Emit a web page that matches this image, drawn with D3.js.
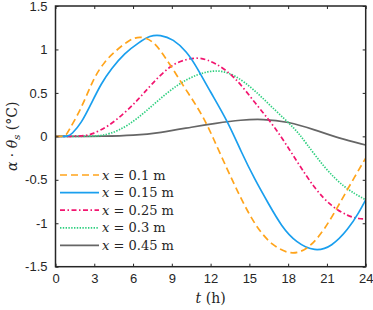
<!DOCTYPE html>
<html><head><meta charset="utf-8">
<script src="https://cdn.jsdelivr.net/npm/d3@7"></script>
<style>
body{margin:0;background:#fff}svg{display:block}
.sans{font-family:"Liberation Sans",Arial,Helvetica,sans-serif}
.serif{font-family:"DejaVu Serif","Liberation Serif",serif}
</style>
</head><body><svg id="c" width="373" height="310"></svg>
<script>
const xTicks = [0,3,6,9,12,15,18,21,24];
const yTicks = [-1.5,-1,-0.5,0,0.5,1,1.5];
const yTickLabels = ["-1.5","-1","-0.5","0","0.5","1","1.5"];
const seriesNames = ["x = 0.1 m","x = 0.15 m","x = 0.25 m","x = 0.3 m","x = 0.45 m"];

const t1 = [0,0.8,0.97,1.74,2.38,3.03,3.8,4.58,5.61,6.5,7.57,8.34,9.11,9.89,10.66,11.44,12.15,13.3,14.14,14.92,15.69,16.72,18.2,19.56,20.85,22.14,23.17,24];
const v1 = [0,0,0.055,0.25,0.46,0.69,0.86,0.975,1.10,1.16,1.10,0.94,0.77,0.58,0.41,0.22,0.0,-0.385,-0.65,-0.88,-1.07,-1.25,-1.37,-1.30,-1.07,-0.73,-0.46,-0.25];
const t2 = [0,1.0,1.22,2.0,2.77,3.54,4.32,5.35,6.45,7.31,8.08,9.11,10.15,10.92,11.95,13.3,14.4,15.43,16.46,17.5,18.6,20.08,21.37,22.65,23.5,24];
const v2 = [0,0,0.02,0.15,0.38,0.61,0.78,0.96,1.08,1.16,1.17,1.12,0.975,0.80,0.52,0.18,-0.19,-0.50,-0.77,-1.04,-1.22,-1.33,-1.27,-1.07,-0.87,-0.73];
const t3 = [0,2.0,2.77,4.06,5.35,6.38,7.31,8.86,10.15,11.18,12.34,13.88,15.5,16.98,18.6,20.08,21.37,22.65,23.5,24];
const v3 = [0,0,0.02,0.11,0.27,0.42,0.58,0.82,0.89,0.91,0.85,0.69,0.37,0.11,-0.27,-0.61,-0.81,-0.92,-0.95,-0.95];
const t4 = [0,3.0,3.6,4.84,6.33,7.83,9.45,11.0,12.5,13.88,15.43,16.98,18.53,19.3,20.85,22.4,24];
const v4 = [0,0,0.01,0.055,0.20,0.40,0.60,0.72,0.77,0.71,0.53,0.30,0.09,-0.06,-0.37,-0.60,-0.73];
const t5 = [0,4,6,8.08,10.66,12.34,14.4,16.0,18,20.08,21.88,24];
const v5 = [0,0,0.01,0.04,0.11,0.15,0.19,0.20,0.17,0.075,-0.02,-0.10];

const colors = ["#FFA41B","#1A9FEE","#F2156F","#2ECF7F","#666666"];
const dashes = ["7,4", null, "5,2.5,1.5,2.5", "1.4,1.4", null];
const series = [[t1,v1],[t2,v2],[t3,v3],[t4,v4],[t5,v5]];

const svg = d3.select("#c");
const L=55.5, R=365.7, T=6, B=266.7;
const x = d3.scaleLinear().domain([0,24]).range([L,R]);
const y = d3.scaleLinear().domain([-1.5,1.5]).range([B,T]);

const g = svg.append("g");
g.append("defs").append("clipPath").attr("id","clp").append("rect")
 .attr("x",L).attr("y",T).attr("width",R-L).attr("height",B-T);

const line = d3.line().x(d=>x(d[0])).y(d=>y(d[1])).curve(d3.curveBasis);
const order=[4,3,2,1,0];
order.forEach(i=>{
  const [tt,vv]=series[i];
  const pts = tt.map((t,k)=>[t,vv[k]]);
  g.append("path").attr("d",line(pts)).attr("fill","none")
   .attr("stroke",colors[i]).attr("stroke-width",1.7)
   .attr("stroke-dasharray",dashes[i]).attr("clip-path","url(#clp)");
});

// axes
const axB = d3.axisBottom(x).tickValues(xTicks).tickSizeInner(-3).tickSizeOuter(0).tickPadding(7);
const axL = d3.axisLeft(y).tickValues(yTicks).tickFormat((d,i)=>yTickLabels[i]).tickSizeInner(-3).tickSizeOuter(0).tickPadding(8);
const axT = d3.axisTop(x).tickValues(xTicks).tickSizeInner(-3).tickSizeOuter(0).tickFormat("");
const axR = d3.axisRight(y).tickValues(yTicks).tickSizeInner(-3).tickSizeOuter(0).tickFormat("");
const gb=g.append("g").attr("transform",`translate(0,${B})`).call(axB);
const gl=g.append("g").attr("transform",`translate(${L},0)`).call(axL);
const gt=g.append("g").attr("transform",`translate(0,${T})`).call(axT);
const gr=g.append("g").attr("transform",`translate(${R},0)`).call(axR);
[gb,gl,gt,gr].forEach(a=>{
  a.attr("font-family",null).attr("font-size",null);
  a.select(".domain").remove();
  a.selectAll("line").attr("stroke","#262626").attr("stroke-width",1);
  a.selectAll("text").attr("class","sans").style("font-size","13px").attr("fill","#262626");
});
g.append("rect").attr("x",L).attr("y",T).attr("width",R-L).attr("height",B-T)
 .attr("fill","none").attr("stroke","#262626").attr("stroke-width",1.5);

// labels
const xl = svg.append("text").attr("class","serif").attr("x",x(12)).attr("y",303).attr("text-anchor","middle")
 .style("font-size","14px").attr("fill","#262626");
xl.append("tspan").style("font-style","italic").text("t");
xl.append("tspan").text(" (h)");

const yl = svg.append("text").attr("class","serif").attr("transform",`translate(17,${y(0)}) rotate(-90)`)
 .attr("text-anchor","middle").style("font-size","14px").attr("fill","#262626");
yl.append("tspan").style("font-style","italic").text("α");
yl.append("tspan").text(" · ");
yl.append("tspan").style("font-style","italic").text("θ");
yl.append("tspan").style("font-style","italic").style("font-size","10px").attr("dy",3).text("s");
yl.append("tspan").attr("dy",-3).text(" (°C)");

// legend
const lg = svg.append("g");
seriesNames.forEach((n,i)=>{
  const yy = 175 + i*17.6;
  lg.append("line").attr("x1",60).attr("x2",99).attr("y1",yy).attr("y2",yy)
    .attr("stroke",colors[i]).attr("stroke-width",1.7).attr("stroke-dasharray",dashes[i]);
  const tx = lg.append("text").attr("class","serif").attr("x",102).attr("y",yy+4.5)
    .style("font-size","13px").attr("fill","#262626");
  const parts = n.split(" = ");
  tx.append("tspan").style("font-style","italic").text(parts[0]);
  tx.append("tspan").text(" = "+parts[1]);
});
</script></body></html>
